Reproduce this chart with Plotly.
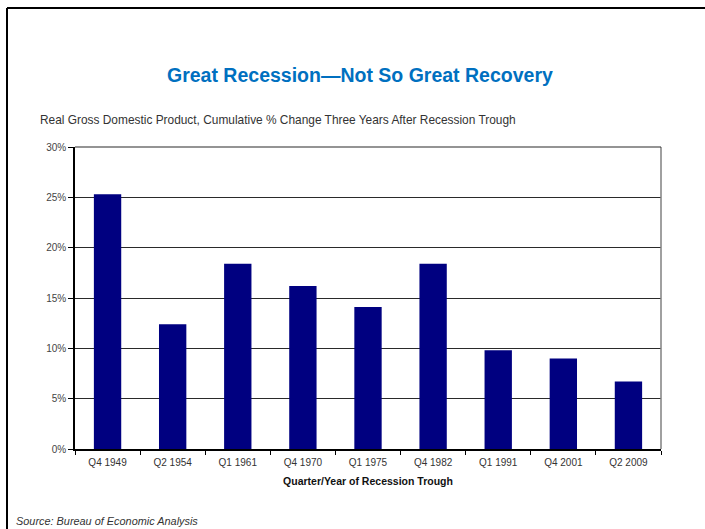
import plotly.graph_objects as go

categories = ["Q4 1949", "Q2 1954", "Q1 1961", "Q4 1970", "Q1 1975",
              "Q4 1982", "Q1 1991", "Q4 2001", "Q2 2009"]
gdp_change = [25.3, 12.4, 18.4, 16.2, 14.1, 18.4, 9.8, 9.0, 6.7]
y_ticks = [0, 5, 10, 15, 20, 25, 30]
y_tick_labels = ["0%", "5%", "10%", "15%", "20%", "25%", "30%"]

W, H = 705, 529
L, R, T, B = 75, 661, 147, 449

def px_x(px):
    return (px - L) / (R - L)

def px_y(py):
    return (B - py) / (B - T)

fig = go.Figure()
fig.add_trace(go.Bar(
    x=categories, y=gdp_change,
    marker=dict(color="#000080", line=dict(width=0)),
    width=0.42,
    hoverinfo="x+y",
))

font_family = "Liberation Sans, Arial, sans-serif"

fig.update_layout(
    width=W, height=H,
    margin=dict(l=L, r=W - R, t=T, b=H - B),
    paper_bgcolor="white", plot_bgcolor="white",
    showlegend=False,
    font=dict(family=font_family, color="#333333", size=10),
    xaxis=dict(
        showline=True, linecolor="#000000", linewidth=1.5,
        ticks="outside", tickson="boundaries", ticklen=4, tickcolor="#000000",
        tickfont=dict(size=10, color="#333333"), ticklabelstandoff=3,
        showgrid=False, fixedrange=True,
        title=dict(text="<b>Quarter/Year of Recession Trough</b>",
                   font=dict(size=10.5, color="#111111"), standoff=11),
    ),
    yaxis=dict(
        range=[0, 30], tickvals=y_ticks, ticktext=y_tick_labels,
        showline=True, linecolor="#000000", linewidth=1.5,
        ticks="outside", ticklen=5, tickcolor="#000000",
        tickfont=dict(size=10, color="#444444"),
        showgrid=True, gridcolor="#2a2a2a", gridwidth=1.2,
        zeroline=False, fixedrange=True,
    ),
    shapes=[
        # plot frame right (gray) and top
        dict(type="line", xref="paper", yref="paper", x0=1, x1=1, y0=0, y1=1,
             line=dict(color="#808080", width=1.5)),
        dict(type="line", xref="paper", yref="paper", x0=0, x1=1, y0=1, y1=1,
             line=dict(color="#2a2a2a", width=1.2)),
        # outer page frame (left and top)
        dict(type="line", xref="paper", yref="paper",
             x0=px_x(7), x1=px_x(7), y0=px_y(8), y1=px_y(535),
             line=dict(color="#000000", width=2)),
        dict(type="line", xref="paper", yref="paper",
             x0=px_x(7), x1=px_x(720), y0=px_y(8), y1=px_y(8),
             line=dict(color="#000000", width=2)),
    ],
    annotations=[
        dict(text="<b>Great Recession\u2014Not So Great Recovery</b>",
             xref="paper", yref="paper", x=px_x(360), y=px_y(75),
             xanchor="center", yanchor="middle", showarrow=False,
             font=dict(size=19.5, color="#0070C0", family=font_family)),
        dict(text="Real Gross Domestic Product, Cumulative % Change Three Years After Recession Trough",
             xref="paper", yref="paper", x=px_x(38), y=px_y(120),
             xanchor="left", yanchor="middle", showarrow=False,
             font=dict(size=11.9, color="#333333", family=font_family)),
        dict(text="<i>Source: Bureau of Economic Analysis</i>",
             xref="paper", yref="paper", x=px_x(14), y=px_y(521),
             xanchor="left", yanchor="middle", showarrow=False,
             font=dict(size=10.9, color="#333333", family=font_family)),
    ],
)

fig.write_html("out.html")
